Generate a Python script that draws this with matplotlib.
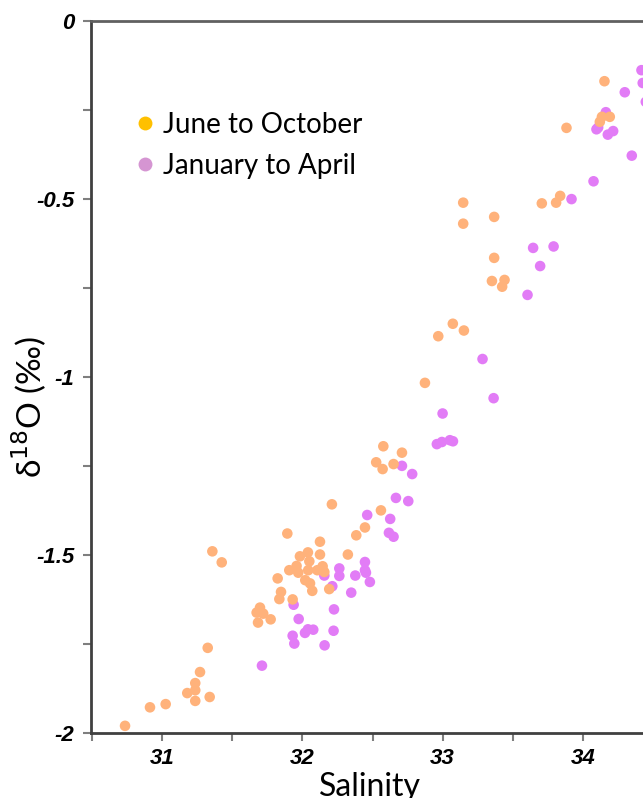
import matplotlib
matplotlib.use("Agg")
import matplotlib.pyplot as plt
from matplotlib.lines import Line2D
from matplotlib.ticker import MultipleLocator, FixedLocator, FixedFormatter

plt.rcParams['axes.unicode_minus'] = False

# June to October samples
jun_oct_sal = [30.734, 30.912, 31.024, 31.178, 31.235, 31.235, 31.235, 31.269, 31.338, 31.324,
               31.357, 31.424, 31.892, 31.823, 31.847, 31.835, 31.697, 31.673, 31.720, 31.773,
               31.683, 31.930, 31.906, 31.958, 31.970, 31.982, 32.039, 32.049, 32.041, 32.020,
               32.054, 32.070, 32.125, 32.125, 32.144, 32.156, 32.106, 32.191, 32.210, 32.324,
               32.384, 32.446, 32.560, 32.577, 32.526, 32.572, 32.650, 32.710, 32.874, 32.969,
               33.073, 33.152, 33.147, 33.147, 33.368, 33.368, 33.352, 33.442, 33.425, 33.708,
               33.810, 33.839, 33.884, 34.155, 34.137, 34.193, 34.122]
jun_oct_d18o = [-1.980, -1.928, -1.919, -1.888, -1.880, -1.860, -1.910, -1.829, -1.899, -1.761,
                -1.490, -1.521, -1.440, -1.566, -1.604, -1.624, -1.648, -1.662, -1.665, -1.681,
                -1.690, -1.625, -1.543, -1.531, -1.550, -1.504, -1.493, -1.518, -1.543, -1.571,
                -1.580, -1.601, -1.463, -1.499, -1.532, -1.548, -1.543, -1.596, -1.358, -1.499,
                -1.445, -1.423, -1.375, -1.195, -1.240, -1.259, -1.245, -1.213, -1.017, -0.886,
                -0.851, -0.870, -0.511, -0.570, -0.551, -0.666, -0.731, -0.728, -0.747, -0.513,
                -0.511, -0.492, -0.301, -0.170, -0.270, -0.270, -0.284]

# January to April samples
jan_apr_sal = [31.711, 31.937, 31.973, 31.930, 31.942, 32.018, 32.039, 32.077, 32.158, 32.222,
               32.225, 32.213, 32.156, 32.263, 32.263, 32.348, 32.377, 32.446, 32.446, 32.453,
               32.481, 32.462, 32.626, 32.617, 32.650, 32.667, 32.755, 32.710, 32.783, 32.959,
               32.995, 33.052, 33.074, 33.000, 33.285, 33.364, 33.606, 33.646, 33.792, 33.696,
               33.920, 34.077, 34.098, 34.110, 34.165, 34.179, 34.217, 34.300, 34.350, 34.419,
               34.428, 34.450]
jan_apr_d18o = [-1.811, -1.640, -1.680, -1.727, -1.749, -1.719, -1.709, -1.710, -1.754, -1.713,
                -1.653, -1.588, -1.558, -1.538, -1.559, -1.606, -1.558, -1.520, -1.543, -1.550,
                -1.576, -1.388, -1.399, -1.438, -1.449, -1.340, -1.349, -1.250, -1.273, -1.189,
                -1.183, -1.178, -1.181, -1.103, -0.950, -1.060, -0.770, -0.638, -0.634, -0.689,
                -0.501, -0.451, -0.305, -0.300, -0.257, -0.320, -0.310, -0.201, -0.379, -0.139,
                -0.175, -0.228]

y_ticks = [0, -0.5, -1, -1.5, -2]
y_tick_labels = ['0', '-0.5', '-1', '-1.5', '-2']
x_ticks = [31, 32, 33, 34]

fig = plt.figure(figsize=(6.43, 7.98), dpi=100)
ax = fig.add_axes([0.1415, 0.0815, 0.8585, 0.8926])

ax.scatter(jan_apr_sal, jan_apr_d18o, s=58, color='#E27CF6', edgecolors='none', zorder=3)
ax.scatter(jun_oct_sal, jun_oct_d18o, s=58, color='#FFB27B', edgecolors='none', zorder=4)

ax.set_xlim(30.491, 34.43)
ax.set_ylim(-2, 0)

ax.xaxis.set_major_locator(FixedLocator(x_ticks))
ax.xaxis.set_minor_locator(MultipleLocator(0.5))
ax.yaxis.set_major_locator(FixedLocator(y_ticks))
ax.yaxis.set_major_formatter(FixedFormatter(y_tick_labels))
ax.yaxis.set_minor_locator(MultipleLocator(0.25))

tick_font = dict(family='Liberation Sans', weight='bold', style='italic', size=16)
for lab in ax.get_xticklabels() + ax.get_yticklabels():
    lab.set_fontproperties(matplotlib.font_manager.FontProperties(**tick_font))

ax.tick_params(which='both', direction='out', length=6, width=1.5, color='#7f7f7f')
ax.tick_params(axis='x', which='both', pad=5)
ax.tick_params(axis='y', which='both', pad=6)

for side in ['left', 'bottom', 'top']:
    ax.spines[side].set_color('#404040')
    ax.spines[side].set_linewidth(2)
ax.spines['top'].set_color('#606060')
ax.spines['right'].set_visible(False)

ax.set_xlabel('Salinity', family='Lato', fontsize=23)
ax.xaxis.set_label_coords(0.505, -0.055, transform=ax.transAxes)
ax.xaxis.label.set_va('top')
ax.set_ylabel('δ$^{18}$O (‰)', family='Lato', fontsize=24)
ax.yaxis.set_label_coords(-0.076, 0.458)

handles = [
    Line2D([], [], marker='o', linestyle='none', markersize=10, color='#FFC000', markeredgewidth=0),
    Line2D([], [], marker='o', linestyle='none', markersize=10, color='#D595D2', markeredgewidth=0),
]
ax.legend(handles, ['June to October', 'January to April'], loc='upper left',
          bbox_to_anchor=(0.063, 0.888), frameon=False, handlelength=0.6,
          handletextpad=0.35, labelspacing=0.55, borderaxespad=0,
          prop=dict(family='Lato', size=20))

fig.savefig('out.png', dpi=100)
